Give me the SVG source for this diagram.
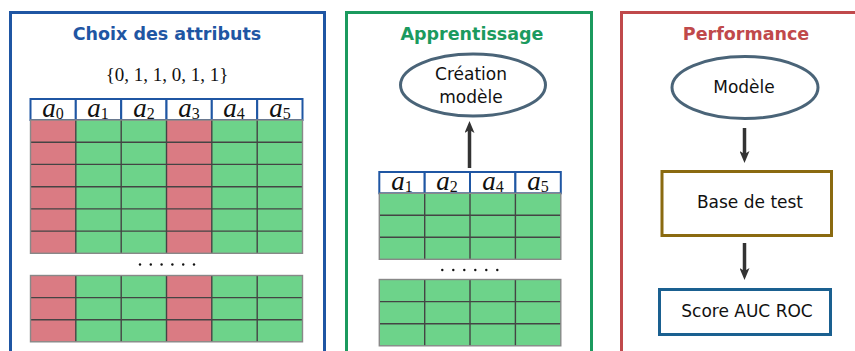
<svg xmlns="http://www.w3.org/2000/svg" width="855" height="351" viewBox="0 0 855 351">
<defs>
<marker id="ah" markerWidth="12" markerHeight="10" refX="3" refY="5" orient="auto" markerUnits="userSpaceOnUse" viewBox="0 0 12 10">
<path d="M0,0 L12,5 L0,10 L3,5 z" fill="#333"/>
</marker>
<style>
.frame{fill:none;stroke-width:3}
.title{font-family:"DejaVu Sans",sans-serif;font-weight:bold;font-size:17.5px;text-anchor:middle}
.lbl{font-family:"DejaVu Sans",sans-serif;font-size:17px;text-anchor:middle;fill:#111}
.math{font-family:"Liberation Serif",serif;font-style:italic;font-size:27px;text-anchor:middle;fill:#111}
.sub{font-style:normal;font-size:16px}
.hdr{fill:#fff;stroke:#1f56a3;stroke-width:2}
.red{fill:#da7b83}
.grn{fill:#6dd38a}
.grid{fill:none;stroke:#444;stroke-width:1.4}
.outer{fill:none;stroke:#888;stroke-width:1.4}
.ell{fill:#fff;stroke:#4a6478;stroke-width:3}
.conn{stroke:#333;stroke-width:3.5;fill:none;marker-end:url(#ah)}
.dot{fill:#111}
</style>
</defs>

<g id="panel-choix">
<rect class="frame" x="10.5" y="12.5" width="314" height="345" stroke="#1f56a3"/>
<text class="title" x="167" y="40" fill="#1f56a3">Choix des attributs</text>
<text x="167" y="81" font-family="Liberation Serif,serif" font-size="19" text-anchor="middle" fill="#111">{0, 1, 1, 0, 1, 1}</text>
</g>

<g id="table-choix">
<g>
<rect class="hdr" x="30.5" y="99" width="45.3" height="21"/>
<rect class="hdr" x="75.8" y="99" width="45.4" height="21"/>
<rect class="hdr" x="121.2" y="99" width="45.3" height="21"/>
<rect class="hdr" x="166.5" y="99" width="45.3" height="21"/>
<rect class="hdr" x="211.8" y="99" width="45.4" height="21"/>
<rect class="hdr" x="257.2" y="99" width="45.3" height="21"/>
<text class="math" x="53" y="117">a<tspan class="sub" dy="2">0</tspan></text>
<text class="math" x="98" y="117">a<tspan class="sub" dy="2">1</tspan></text>
<text class="math" x="144" y="117">a<tspan class="sub" dy="2">2</tspan></text>
<text class="math" x="189" y="117">a<tspan class="sub" dy="2">3</tspan></text>
<text class="math" x="234" y="117">a<tspan class="sub" dy="2">4</tspan></text>
<text class="math" x="280" y="117">a<tspan class="sub" dy="2">5</tspan></text>
</g>
<g>
<rect class="red" x="30.5" y="120" width="45.3" height="133.3"/>
<rect class="grn" x="75.8" y="120" width="90.7" height="133.3"/>
<rect class="red" x="166.5" y="120" width="45.3" height="133.3"/>
<rect class="grn" x="211.8" y="120" width="90.7" height="133.3"/>
<path class="grid" d="M30.5,142.2H302.5M30.5,164.4H302.5M30.5,186.7H302.5M30.5,208.9H302.5M30.5,231.1H302.5M75.8,120V253.3M121.2,120V253.3M166.5,120V253.3M211.8,120V253.3M257.2,120V253.3"/>
<rect class="outer" x="30.5" y="120" width="272" height="133.3"/>
</g>
<g>
<circle class="dot" cx="140" cy="264.5" r="1.2"/>
<circle class="dot" cx="150.8" cy="264.5" r="1.2"/>
<circle class="dot" cx="161.6" cy="264.5" r="1.2"/>
<circle class="dot" cx="172.4" cy="264.5" r="1.2"/>
<circle class="dot" cx="183.2" cy="264.5" r="1.2"/>
<circle class="dot" cx="194" cy="264.5" r="1.2"/>
</g>
<g>
<rect class="red" x="30.5" y="275.5" width="45.3" height="66.3"/>
<rect class="grn" x="75.8" y="275.5" width="90.7" height="66.3"/>
<rect class="red" x="166.5" y="275.5" width="45.3" height="66.3"/>
<rect class="grn" x="211.8" y="275.5" width="90.7" height="66.3"/>
<path class="grid" d="M30.5,297.6H302.5M30.5,319.7H302.5M75.8,275.5V341.8M121.2,275.5V341.8M166.5,275.5V341.8M211.8,275.5V341.8M257.2,275.5V341.8"/>
<rect class="outer" x="30.5" y="275.5" width="272" height="66.3"/>
</g>
</g>

<g id="panel-apprentissage">
<rect class="frame" x="346.5" y="12.5" width="245" height="345" stroke="#1b9a5e"/>
<text class="title" x="472" y="40" fill="#1b9a5e">Apprentissage</text>
</g>

<g id="node-creation">
<ellipse class="ell" cx="473" cy="85" rx="72.5" ry="31"/>
<text class="lbl" x="471" y="80">Création</text>
<text class="lbl" x="471" y="103">modèle</text>
</g>

<g id="table-apprentissage">
<g>
<rect class="hdr" x="379.3" y="172" width="45.4" height="21.3"/>
<rect class="hdr" x="424.7" y="172" width="45.3" height="21.3"/>
<rect class="hdr" x="470" y="172" width="45.4" height="21.3"/>
<rect class="hdr" x="515.4" y="172" width="45.4" height="21.3"/>
<text class="math" x="402" y="190">a<tspan class="sub" dy="2">1</tspan></text>
<text class="math" x="447" y="190">a<tspan class="sub" dy="2">2</tspan></text>
<text class="math" x="493" y="190">a<tspan class="sub" dy="2">4</tspan></text>
<text class="math" x="538" y="190">a<tspan class="sub" dy="2">5</tspan></text>
</g>
<g>
<rect class="grn" x="379.3" y="193.3" width="181.5" height="66"/>
<path class="grid" d="M379.3,215.3H560.8M379.3,237.3H560.8M424.7,193.3V259.3M470,193.3V259.3M515.4,193.3V259.3"/>
<rect class="outer" x="379.3" y="193.3" width="181.5" height="66"/>
</g>
<g>
<circle class="dot" cx="442.3" cy="270" r="1.2"/>
<circle class="dot" cx="453.3" cy="270" r="1.2"/>
<circle class="dot" cx="464.3" cy="270" r="1.2"/>
<circle class="dot" cx="475.3" cy="270" r="1.2"/>
<circle class="dot" cx="486.3" cy="270" r="1.2"/>
<circle class="dot" cx="497.3" cy="270" r="1.2"/>
</g>
<g>
<rect class="grn" x="379.3" y="279.5" width="181.5" height="66.3"/>
<path class="grid" d="M379.3,301.6H560.8M379.3,323.7H560.8M424.7,279.5V345.8M470,279.5V345.8M515.4,279.5V345.8"/>
<rect class="outer" x="379.3" y="279.5" width="181.5" height="66.3"/>
</g>
</g>

<g id="panel-performance">
<rect class="frame" x="621.5" y="12.5" width="250" height="345" stroke="#c0494b"/>
<text class="title" x="746" y="40" fill="#c0494b">Performance</text>
</g>

<g id="node-modele">
<ellipse class="ell" cx="745" cy="87.5" rx="73" ry="31"/>
<text class="lbl" x="744" y="93">Modèle</text>
</g>

<g id="node-base">
<rect x="662" y="171.5" width="169.5" height="64" fill="#fff" stroke="#8a6a10" stroke-width="3"/>
<text class="lbl" x="750" y="207.5">Base de test</text>
</g>

<g id="node-score">
<rect x="659.5" y="289.5" width="171" height="45" fill="#fff" stroke="#1a6090" stroke-width="3"/>
<text class="lbl" x="747" y="316.5">Score AUC ROC</text>
</g>

<g id="connectors">
<line class="conn" x1="469.5" y1="168" x2="469.5" y2="130"/>
<line class="conn" x1="744.5" y1="128" x2="744.5" y2="154"/>
<line class="conn" x1="744.5" y1="243" x2="744.5" y2="271"/>
</g>
</svg>
